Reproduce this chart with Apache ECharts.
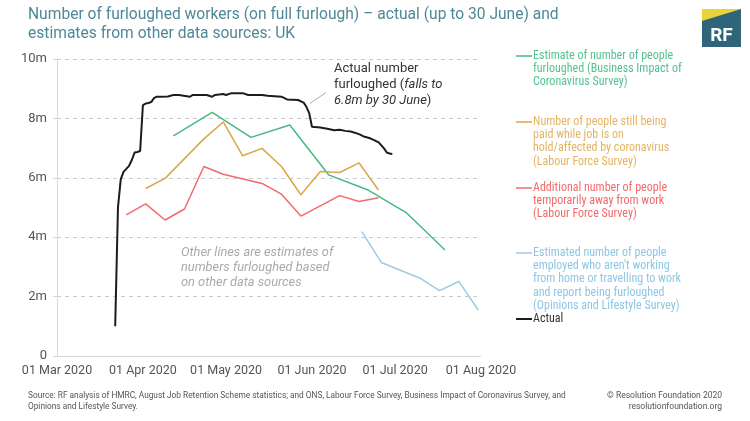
<!DOCTYPE html>
<html>
<head>
<meta charset="utf-8">
<script src="https://cdn.jsdelivr.net/npm/echarts@6/dist/echarts.min.js"></script>
<style>
html,body{margin:0;padding:0;background:#fff;}
#c{width:750px;height:421px;}
</style>
</head>
<body>
<div id="c"></div>
<script>
// ---- data (values in millions) ----
const actualDates = ['2020-03-22','2020-03-23','2020-03-24','2020-03-25','2020-03-26','2020-03-27','2020-03-28','2020-03-29','2020-03-30','2020-03-31',
  '2020-04-01','2020-04-02','2020-04-03','2020-04-04','2020-04-05','2020-04-06','2020-04-07','2020-04-10','2020-04-12','2020-04-14','2020-04-18','2020-04-19',
  '2020-04-24','2020-04-26','2020-04-27','2020-04-30','2020-05-01','2020-05-03','2020-05-07','2020-05-09','2020-05-14','2020-05-16','2020-05-21','2020-05-23',
  '2020-05-27','2020-05-29','2020-05-30','2020-05-31','2020-06-01','2020-06-04','2020-06-07','2020-06-09','2020-06-11','2020-06-13','2020-06-15','2020-06-18',
  '2020-06-20','2020-06-22','2020-06-24','2020-06-25','2020-06-27','2020-06-28','2020-06-29','2020-06-30'];
const actualValues = [1.0,5.0,5.95,6.2,6.3,6.4,6.6,6.85,6.87,6.9,
  8.45,8.5,8.52,8.55,8.68,8.73,8.73,8.74,8.79,8.79,8.73,8.79,
  8.79,8.73,8.79,8.82,8.79,8.85,8.85,8.79,8.79,8.76,8.73,8.64,
  8.62,8.53,8.39,8.18,7.72,7.69,7.64,7.6,7.62,7.58,7.56,7.47,
  7.38,7.33,7.24,7.2,6.99,6.85,6.82,6.8];

const bicsDates = ['2020-04-12','2020-04-26','2020-05-10','2020-05-24','2020-06-07','2020-06-21','2020-07-05','2020-07-19'];
const bicsValues = [7.41,8.2,7.36,7.78,6.1,5.6,4.83,3.57];

const lfsPaidDates = ['2020-04-02','2020-04-09','2020-04-23','2020-04-30','2020-05-07','2020-05-14','2020-05-21','2020-05-28','2020-06-04','2020-06-11','2020-06-18','2020-06-25'];
const lfsPaidValues = [5.64,5.98,7.31,7.88,6.74,6.99,6.38,5.43,6.21,6.18,6.5,5.59];

const lfsAwayDates = ['2020-03-26','2020-04-02','2020-04-09','2020-04-16','2020-04-23','2020-04-30','2020-05-14','2020-05-21','2020-05-28','2020-06-11','2020-06-18','2020-06-25'];
const lfsAwayValues = [4.75,5.12,4.58,4.95,6.38,6.12,5.81,5.45,4.71,5.4,5.2,5.33];

const opnDates = ['2020-06-19','2020-06-26','2020-07-10','2020-07-17','2020-07-24','2020-07-31'];
const opnValues = [4.19,3.15,2.62,2.2,2.51,1.55];

const xStart = '2020-03-01', xEnd = '2020-08-01';
const xTickDates = ['2020-03-01','2020-04-01','2020-05-01','2020-06-01','2020-07-01','2020-08-01'];
const yTicks = [0,2,4,6,8,10];
const monthNames = ['Jan','Feb','Mar','Apr','May','Jun','Jul','Aug','Sep','Oct','Nov','Dec'];

const colors = {bics:'#47b883', paid:'#dba54b', away:'#f26a6b', opn:'#9ecbe2', actual:'#1c1c1c'};
const textColors = {bics:'#55c192', paid:'#e3b463', away:'#f26a6b', opn:'#8fc6e3'};

function ts(s){ const p=s.split('-').map(Number); return Date.UTC(p[0], p[1]-1, p[2]); }
function iso(t){ return new Date(t).toISOString().slice(0,10); }
// category axis: every calendar day in range
const dayCategories = [];
for(let t=ts(xStart); t<=ts(xEnd); t+=86400000) dayCategories.push(iso(t));
function pairs(d, v){ return d.map((x,i)=>[x, v[i]]); }
function labelFor(val){
  const d=new Date(ts(val)); const dd=String(d.getUTCDate()).padStart(2,'0');
  return dd+' '+monthNames[d.getUTCMonth()]+' '+d.getUTCFullYear();
}
// the July tick label is placed through the axis scale below (convertToPixel)
const placedTick = '2020-07-01';
function fmtTick(val){
  if (xTickDates.indexOf(val) < 0 || val === placedTick) return '';
  return labelFor(val);
}

const chart = echarts.init(document.getElementById('c'));
const lineS = (name, data, color, w) => ({
  name, type:'line', data, showSymbol:false, symbol:'none', smooth:false,
  lineStyle:{color, width:w}, itemStyle:{color}, z: w>1.6?5:3
});

const NARROW = '"Liberation Sans Narrow", "Roboto Condensed", "DejaVu Sans Condensed", Roboto';
const legendX = 516;
const legendItems = [
  {c:textColors.bics, lc:colors.bics, y:56, lines:['Estimate of number of people','furloughed (Business Impact of','Coronavirus Survey)']},
  {c:textColors.paid, lc:colors.paid, y:122, lines:['Number of people still being','paid while job is on','hold/affected by coronavirus','(Labour Force Survey)']},
  {c:textColors.away, lc:colors.away, y:188, lines:['Additional number of people','temporarily away from work','(Labour Force Survey)']},
  {c:textColors.opn, lc:colors.opn, y:253, lines:['Estimated number of people','employed who aren\'t working','from home or travelling to work','and report being furloughed','(Opinions and Lifestyle Survey)']},
  {c:'#333', lc:colors.actual, y:319, lines:['Actual'], w:2}
];
const graphics = [];
legendItems.forEach(it=>{
  graphics.push({type:'line', shape:{x1:legendX, y1:it.y, x2:legendX+16, y2:it.y}, style:{stroke:it.lc, lineWidth: it.w||1.5}});
  graphics.push({type:'text', x:legendX+17, y:it.y-7, style:{text:it.lines.join('\n'), fill:it.c, font:'12px '+NARROW, lineHeight:13.3, textVerticalAlign:'top'}});
});
// title
graphics.push({type:'text', x:28, y:6, style:{text:'Number of furloughed workers (on full furlough) – actual (up to 30 June) and\nestimates from other data sources: UK', fill:'#4f8898', font:'15.6px Roboto', lineHeight:19}});
// logo
graphics.push({type:'rect', shape:{x:702, y:9, width:39, height:38}, style:{fill:'#2f6579'}});
graphics.push({type:'polygon', shape:{points:[[702,9],[741,9],[702,21]]}, style:{fill:'#e9d23a'}});
graphics.push({type:'text', x:721.5, y:36, style:{text:'RF', fill:'#fff', font:'bold 19px Roboto', textAlign:'center', textVerticalAlign:'middle'}});
// annotation
graphics.push({type:'text', x:334, y:61, style:{
  text:'{r|Actual number}\n{r|furloughed (}{i|falls to}\n{i|6.8m by 30 June}{r|)}',
  rich:{r:{font:'13px Roboto', fill:'#333', lineHeight:16}, i:{font:'italic 13px Roboto', fill:'#333', lineHeight:16}}
}});
graphics.push({type:'line', shape:{x1:310, y1:103.5, x2:326, y2:92.5}, style:{stroke:'#aaa', lineWidth:1}});
graphics.push({type:'text', x:181, y:245, style:{text:'Other lines are estimates of\nnumbers furloughed based\non other data sources', fill:'#aaaaaa', font:'italic 12.8px Roboto', lineHeight:15.3}});
// footer
graphics.push({type:'text', x:28, y:391, style:{text:'Source: RF analysis of HMRC, August Job Retention Scheme statistics; and ONS, Labour Force Survey, Business Impact of Coronavirus Survey, and\nOpinions and Lifestyle Survey.', fill:'#555', font:'8.3px Roboto', lineHeight:10.5}});
graphics.push({type:'text', x:722, y:391, style:{text:'© Resolution Foundation 2020\nresolutionfoundation.org', fill:'#555', font:'8.5px Roboto', lineHeight:10.5, textAlign:'right'}});

chart.setOption({
  animation:false,
  backgroundColor:'#fff',
  grid:{left:57, top:59, right:269, bottom:65, containLabel:false},
  xAxis:{
    type:'category', data:dayCategories, boundaryGap:false,
    axisLine:{show:true, lineStyle:{color:'#d9d9d9'}},
    axisTick:{show:false},
    splitLine:{show:false},
    axisLabel:{color:'#555', fontSize:12.5, fontFamily:'Roboto', margin:8, hideOverlap:false,
      interval:0, showMinLabel:true, showMaxLabel:true,
      formatter:fmtTick}
  },
  yAxis:{
    type:'value', min:0, max:10, interval:2,
    axisLine:{show:true, lineStyle:{color:'#d9d9d9'}},
    axisTick:{show:true, length:4, lineStyle:{color:'#d9d9d9'}},
    splitLine:{show:true, lineStyle:{color:'#cccccc', type:[4,4]}},
    axisLabel:{color:'#555', fontSize:13, fontFamily:'Roboto', margin:10, formatter:(v)=> v===0?'0':v+'m'}
  },
  series:[
    lineS('BICS', pairs(bicsDates,bicsValues), colors.bics, 1.5),
    lineS('LFS paid', pairs(lfsPaidDates,lfsPaidValues), colors.paid, 1.5),
    lineS('LFS away', pairs(lfsAwayDates,lfsAwayValues), colors.away, 1.5),
    lineS('OPN', pairs(opnDates,opnValues), colors.opn, 1.5),
    lineS('Actual', pairs(actualDates,actualValues), colors.actual, 2)
  ],
  graphic:graphics
});

// place the July tick label using the axis scale
const px = chart.convertToPixel({xAxisIndex:0, yAxisIndex:0}, [placedTick, 0]);
if (px && isFinite(px[0])) {
  graphics.push({type:'text', x:px[0], y:px[1]+8, style:{text:labelFor(placedTick), fill:'#555', font:'12.5px Roboto', textAlign:'center', textVerticalAlign:'top'}});
  chart.setOption({graphic:graphics});
}
</script>
</body>
</html>
